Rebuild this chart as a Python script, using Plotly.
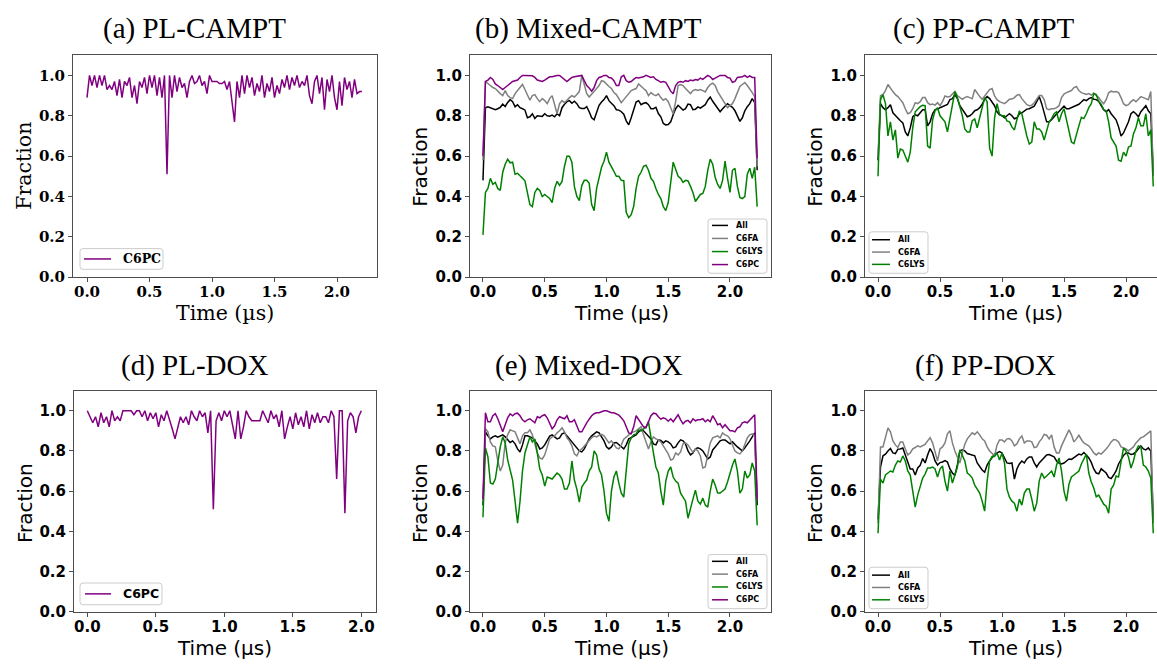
import numpy as np
import plotly.graph_objects as go

W, H = 1157, 667
DT = 0.02  # sampling interval of the traces, in µs

# ---------------- data: fraction of contacts vs. time ----------------
pl_campt_c6pc = [
    0.89, 1.00, 0.95, 1.00, 0.94, 1.00, 0.95, 1.00, 0.93, 0.95,
    0.93, 0.97, 0.90, 0.98, 0.89, 0.97, 0.95, 0.99, 0.89, 0.95,
    0.86, 0.97, 0.94, 0.99, 0.91, 1.00, 0.94, 1.00, 0.90, 0.99,
    0.89, 1.00, 0.51, 1.00, 0.89, 1.00, 0.92, 0.99, 0.94, 0.96,
    0.89, 0.97, 1.00, 0.96, 0.97, 1.00, 0.95, 0.97, 0.91, 1.00,
    0.97, 0.97, 0.97, 0.96, 0.96, 0.97, 0.93, 0.97, 0.88, 0.77,
    0.97, 0.89, 1.00, 0.91, 1.00, 0.94, 0.99, 0.90, 0.96, 0.92,
    1.00, 0.89, 0.96, 0.92, 0.99, 0.89, 0.95, 0.91, 0.98, 0.94,
    1.00, 0.93, 0.99, 0.95, 1.00, 0.94, 0.97, 0.95, 1.00, 0.90,
    0.86, 0.97, 1.00, 0.91, 0.99, 0.83, 0.98, 0.92, 1.00, 0.89,
    0.83, 0.97, 0.85, 0.99, 0.93, 0.97, 0.89, 0.98, 0.91, 0.92, 0.92]

mixed_campt_all = [
    0.48, 0.84, 0.845, 0.84, 0.838, 0.83, 0.835, 0.842, 0.858, 0.846,
    0.866, 0.88, 0.87, 0.845, 0.855, 0.84, 0.835, 0.828, 0.79, 0.795,
    0.81, 0.787, 0.80, 0.80, 0.797, 0.81, 0.80, 0.798, 0.803, 0.795,
    0.81, 0.80, 0.84, 0.857, 0.87, 0.875, 0.862, 0.872, 0.86, 0.84,
    0.836, 0.836, 0.845, 0.82, 0.79, 0.78, 0.82, 0.852, 0.868, 0.88,
    0.90, 0.875, 0.862, 0.85, 0.83, 0.828, 0.82, 0.808, 0.775, 0.755,
    0.79, 0.835, 0.868, 0.875, 0.855, 0.862, 0.865, 0.855, 0.835, 0.835,
    0.842, 0.811, 0.795, 0.762, 0.755, 0.757, 0.77, 0.805, 0.835, 0.852,
    0.84, 0.828, 0.835, 0.858, 0.855, 0.83, 0.832, 0.844, 0.838, 0.845,
    0.855, 0.877, 0.893, 0.872, 0.855, 0.838, 0.82, 0.835, 0.85, 0.86,
    0.85, 0.842, 0.825, 0.795, 0.772, 0.79, 0.825, 0.845, 0.86, 0.885,
    0.865, 0.53]
mixed_campt_c6fa = [
    0.58, 0.97, 0.96, 0.95, 0.94, 0.935, 0.92, 0.91, 0.90, 0.925,
    0.90, 0.89, 0.885, 0.91, 0.925, 0.94, 0.955, 0.93, 0.90, 0.877,
    0.90, 0.905, 0.885, 0.87, 0.885, 0.875, 0.86, 0.885, 0.90, 0.85,
    0.81, 0.86, 0.875, 0.865, 0.88, 0.89, 0.90, 0.893, 0.905, 0.92,
    1.00, 0.96, 0.91, 0.893, 0.909, 0.92, 0.935, 0.95, 0.974, 0.97,
    0.955, 0.945, 0.935, 0.915, 0.905, 0.885, 0.865, 0.88, 0.895, 0.909,
    0.925, 0.93, 0.935, 0.958, 0.945, 0.935, 0.925, 0.90, 0.915, 0.905,
    0.90, 0.909, 0.89, 0.877, 0.885, 0.87, 0.84, 0.81, 0.87, 0.95,
    0.955, 0.95, 0.935, 0.92, 0.91, 0.925, 0.93, 0.925, 0.93, 0.925,
    0.918, 0.94, 0.955, 0.962, 0.95, 0.92, 0.90, 0.88, 0.86, 0.84,
    0.85, 0.86, 0.885, 0.92, 0.945, 0.955, 0.965, 0.95, 0.935, 0.915,
    0.895, 0.55]
mixed_campt_c6lys = [
    0.21, 0.42, 0.44, 0.49, 0.46, 0.47, 0.44, 0.43, 0.52, 0.56,
    0.585, 0.567, 0.57, 0.51, 0.515, 0.50, 0.49, 0.478, 0.42, 0.36,
    0.35, 0.42, 0.44, 0.43, 0.40, 0.41, 0.40, 0.39, 0.37, 0.44,
    0.475, 0.455, 0.475, 0.55, 0.60, 0.60, 0.57, 0.45, 0.40, 0.38,
    0.454, 0.48, 0.48, 0.465, 0.36, 0.33, 0.44, 0.50, 0.545, 0.575,
    0.62, 0.57, 0.55, 0.525, 0.50, 0.50, 0.48, 0.478, 0.32, 0.295,
    0.31, 0.35, 0.44, 0.50, 0.52, 0.55, 0.555, 0.53, 0.49, 0.475,
    0.44, 0.41, 0.39, 0.35, 0.33, 0.37, 0.47, 0.57, 0.535, 0.50,
    0.49, 0.47, 0.48, 0.477, 0.45, 0.42, 0.375, 0.39, 0.41, 0.415,
    0.45, 0.53, 0.585, 0.56, 0.495, 0.46, 0.44, 0.48, 0.575, 0.49,
    0.42, 0.53, 0.54, 0.45, 0.395, 0.39, 0.40, 0.51, 0.54, 0.49,
    0.545, 0.35]
mixed_campt_c6pc = [
    0.60, 0.97, 0.977, 0.99, 0.98, 0.958, 0.95, 0.94, 0.93, 0.94,
    0.95, 0.96, 0.97, 0.974, 0.977, 0.99, 1.00, 1.00, 1.00, 1.00,
    0.998, 0.99, 0.977, 0.974, 0.97, 0.977, 0.987, 0.993, 0.993, 0.998,
    1.00, 1.00, 0.99, 0.977, 0.97, 0.98, 0.99, 0.993, 0.996, 1.00,
    1.00, 0.974, 0.95, 0.938, 0.922, 0.94, 0.974, 0.99, 0.993, 1.00,
    1.00, 0.99, 0.987, 0.974, 0.95, 0.95, 0.993, 1.00, 0.974, 0.966,
    0.97, 0.98, 0.99, 0.987, 0.99, 0.993, 1.00, 0.993, 0.99, 0.993,
    0.98, 0.974, 0.966, 0.97, 0.966, 0.945, 0.922, 0.909, 0.95, 0.966,
    0.97, 0.966, 0.974, 0.97, 0.977, 0.974, 0.98, 0.977, 0.987, 0.98,
    0.99, 1.00, 0.993, 0.98, 0.987, 0.993, 1.00, 1.00, 1.00, 0.99,
    0.987, 0.966, 0.97, 0.99, 0.99, 0.993, 1.00, 0.99, 0.998, 0.99,
    0.99, 0.59]

pp_campt_all = [
    0.58, 0.86, 0.84, 0.83, 0.84, 0.855, 0.815, 0.80, 0.79, 0.775,
    0.765, 0.72, 0.70, 0.74, 0.795, 0.805, 0.80, 0.815, 0.83, 0.83,
    0.75, 0.77, 0.81, 0.83, 0.833, 0.84, 0.845, 0.85, 0.856, 0.88,
    0.885, 0.905, 0.885, 0.85, 0.83, 0.816, 0.795, 0.80, 0.81, 0.825,
    0.83, 0.84, 0.857, 0.882, 0.895, 0.885, 0.87, 0.85, 0.82, 0.805,
    0.80, 0.79, 0.80, 0.81, 0.80, 0.785, 0.79, 0.81, 0.815, 0.825,
    0.833, 0.835, 0.84, 0.848, 0.87, 0.895, 0.86, 0.82, 0.77, 0.77,
    0.78, 0.795, 0.81, 0.825, 0.835, 0.848, 0.835, 0.835, 0.84, 0.845,
    0.85, 0.857, 0.868, 0.88, 0.875, 0.885, 0.89, 0.882, 0.88, 0.872,
    0.85, 0.83, 0.82, 0.83, 0.81, 0.795, 0.78, 0.745, 0.70, 0.715,
    0.74, 0.77, 0.81, 0.82, 0.81, 0.795, 0.82, 0.835, 0.85, 0.825,
    0.81, 0.52]
pp_campt_c6fa = [
    0.60, 0.90, 0.906, 0.925, 0.955, 0.935, 0.92, 0.905, 0.895, 0.88,
    0.865, 0.835, 0.81, 0.815, 0.835, 0.865, 0.86, 0.87, 0.89, 0.89,
    0.865, 0.855, 0.858, 0.853, 0.865, 0.85, 0.87, 0.898, 0.893, 0.895,
    0.906, 0.92, 0.90, 0.89, 0.882, 0.89, 0.895, 0.89, 0.885, 0.93,
    0.91, 0.895, 0.882, 0.898, 0.915, 0.93, 0.935, 0.898, 0.88, 0.87,
    0.865, 0.86, 0.87, 0.882, 0.883, 0.89, 0.902, 0.905, 0.885, 0.87,
    0.855, 0.85, 0.852, 0.865, 0.885, 0.90, 0.90, 0.88, 0.835, 0.83,
    0.835, 0.835, 0.84, 0.85, 0.89, 0.908, 0.915, 0.92, 0.925, 0.94,
    0.945, 0.925, 0.915, 0.91, 0.906, 0.91, 0.902, 0.912, 0.902, 0.89,
    0.873, 0.86, 0.88, 0.914, 0.922, 0.918, 0.92, 0.915, 0.89, 0.86,
    0.85, 0.855, 0.87, 0.88, 0.87, 0.885, 0.895, 0.89, 0.885, 0.88,
    0.92, 0.50]
pp_campt_c6lys = [
    0.50, 0.88, 0.905, 0.86, 0.70, 0.77, 0.68, 0.73, 0.59, 0.635,
    0.63, 0.60, 0.57, 0.62, 0.74, 0.82, 0.835, 0.845, 0.852, 0.85,
    0.65, 0.64, 0.78, 0.825, 0.84, 0.80, 0.785, 0.77, 0.72, 0.79,
    0.86, 0.92, 0.89, 0.845, 0.80, 0.735, 0.72, 0.72, 0.776, 0.784,
    0.74, 0.79, 0.845, 0.89, 0.87, 0.64, 0.60, 0.79, 0.86, 0.808,
    0.80, 0.80, 0.775, 0.77, 0.745, 0.73, 0.78, 0.824, 0.81, 0.75,
    0.70, 0.66, 0.67, 0.77, 0.735, 0.735, 0.72, 0.68, 0.73, 0.77,
    0.786, 0.81, 0.82, 0.77, 0.81, 0.835, 0.78, 0.725, 0.67, 0.662,
    0.70, 0.75, 0.792, 0.786, 0.81, 0.84, 0.86, 0.91, 0.905, 0.87,
    0.857, 0.83, 0.825, 0.77, 0.69, 0.67, 0.65, 0.58, 0.575, 0.62,
    0.60, 0.645, 0.65, 0.71, 0.74, 0.79, 0.75, 0.75, 0.81, 0.70,
    0.73, 0.45]

pl_dox_c6pc = [
    1.00, 0.97, 0.94, 0.97, 0.92, 0.99, 0.94, 0.97, 0.92, 1.00,
    0.95, 0.97, 0.95, 1.00, 1.00, 1.00, 1.00, 0.98, 1.00, 1.00,
    0.97, 1.00, 0.95, 0.99, 0.96, 0.99, 0.92, 0.98, 0.95, 1.00,
    0.96, 0.91, 0.86, 0.92, 0.97, 0.94, 0.97, 0.93, 1.00, 0.97,
    0.95, 1.00, 0.97, 0.99, 0.89, 1.00, 0.51, 0.95, 0.99, 0.95,
    1.00, 0.97, 1.00, 0.93, 0.86, 1.00, 0.86, 0.92, 1.00, 0.97,
    0.95, 0.95, 0.95, 0.95, 1.00, 0.97, 0.94, 1.00, 0.96, 0.98,
    0.92, 1.00, 0.86, 0.92, 0.97, 0.91, 0.99, 0.93, 0.97, 0.92,
    1.00, 0.91, 0.98, 0.94, 0.99, 0.94, 0.97, 0.97, 0.94, 1.00,
    0.97, 0.66, 1.00, 1.00, 0.49, 0.95, 0.99, 0.97, 0.89, 0.97,
    1.00]

mixed_dox_all = [
    0.53, 0.895, 0.875, 0.86, 0.87, 0.875, 0.868, 0.875, 0.88, 0.87,
    0.855, 0.842, 0.85, 0.835, 0.81, 0.795, 0.83, 0.875, 0.875, 0.87,
    0.865, 0.85, 0.835, 0.81, 0.815, 0.83, 0.85, 0.874, 0.88, 0.87,
    0.86, 0.865, 0.885, 0.89, 0.875, 0.855, 0.84, 0.83, 0.815, 0.80,
    0.795, 0.81, 0.835, 0.86, 0.875, 0.885, 0.895, 0.89, 0.87, 0.85,
    0.82, 0.81, 0.82, 0.84, 0.842, 0.83, 0.82, 0.81, 0.83, 0.86,
    0.866, 0.875, 0.88, 0.895, 0.905, 0.90, 0.885, 0.87, 0.86, 0.835,
    0.83, 0.855, 0.852, 0.84, 0.85, 0.845, 0.835, 0.815, 0.82, 0.84,
    0.855, 0.85, 0.835, 0.80, 0.78, 0.79, 0.81, 0.815, 0.81, 0.80,
    0.78, 0.76, 0.77, 0.805, 0.82, 0.835, 0.85, 0.855, 0.855, 0.845,
    0.835, 0.845, 0.83, 0.82, 0.81, 0.80, 0.815, 0.83, 0.85, 0.87,
    0.89, 0.53]
mixed_dox_c6fa = [
    0.55, 0.91, 0.895, 0.845, 0.825, 0.82, 0.75, 0.70, 0.73, 0.84,
    0.88, 0.905, 0.90, 0.895, 0.865, 0.835, 0.875, 0.89, 0.89, 0.905,
    0.88, 0.83, 0.79, 0.765, 0.76, 0.78, 0.825, 0.86, 0.87, 0.875,
    0.89, 0.90, 0.915, 0.895, 0.865, 0.85, 0.825, 0.785, 0.775, 0.80,
    0.81, 0.825, 0.84, 0.855, 0.866, 0.874, 0.87, 0.878, 0.883, 0.875,
    0.855, 0.84, 0.85, 0.83, 0.815, 0.81, 0.83, 0.858, 0.87, 0.88,
    0.89, 0.895, 0.90, 0.91, 0.92, 0.88, 0.84, 0.81, 0.845, 0.87,
    0.86, 0.855, 0.845, 0.825, 0.80, 0.785, 0.755, 0.76, 0.79, 0.78,
    0.795, 0.835, 0.84, 0.83, 0.81, 0.793, 0.81, 0.80, 0.775, 0.715,
    0.72, 0.775, 0.84, 0.865, 0.87, 0.875, 0.865, 0.89, 0.88, 0.875,
    0.86, 0.825, 0.80, 0.79, 0.785, 0.80, 0.835, 0.865, 0.88, 0.885,
    0.875, 0.56]
mixed_dox_c6lys = [
    0.47, 0.815, 0.77, 0.64, 0.635, 0.66, 0.74, 0.82, 0.87, 0.84,
    0.755, 0.71, 0.655, 0.55, 0.44, 0.55, 0.70, 0.79, 0.835, 0.87,
    0.845, 0.86, 0.79, 0.71, 0.68, 0.625, 0.67, 0.665, 0.66, 0.675,
    0.69, 0.68, 0.66, 0.61, 0.61, 0.64, 0.75, 0.655, 0.61, 0.545,
    0.62, 0.64, 0.655, 0.70, 0.72, 0.80, 0.78, 0.71, 0.68, 0.60,
    0.49, 0.45, 0.60, 0.67, 0.70, 0.64, 0.59, 0.57, 0.72, 0.835,
    0.865, 0.88, 0.885, 0.905, 0.90, 0.91, 0.92, 0.945, 0.86, 0.79,
    0.72, 0.69, 0.60, 0.53, 0.65, 0.70, 0.72, 0.67, 0.65, 0.64,
    0.59, 0.57, 0.55, 0.465, 0.52, 0.56, 0.605, 0.55, 0.535, 0.565,
    0.53, 0.52, 0.60, 0.66, 0.63, 0.59, 0.59, 0.60, 0.61, 0.645,
    0.69, 0.73, 0.76, 0.70, 0.59, 0.61, 0.70, 0.665, 0.68, 0.74,
    0.70, 0.43]
mixed_dox_c6pc = [
    0.56, 0.99, 0.945, 0.945, 0.975, 0.985, 0.96, 0.925, 0.895, 0.93,
    0.965, 0.985, 0.975, 0.985, 0.988, 0.975, 0.955, 0.945, 0.955, 0.96,
    0.948, 0.94, 0.97, 0.965, 0.975, 0.98, 0.965, 0.935, 0.91, 0.925,
    0.955, 0.97, 0.965, 0.96, 0.975, 0.945, 0.945, 0.955, 0.925, 0.895,
    0.895, 0.92, 0.94, 0.958, 0.975, 0.985, 0.99, 0.99, 0.995, 1.00,
    1.00, 0.996, 0.99, 0.99, 0.985, 0.978, 0.965, 0.95, 0.92, 0.89,
    0.885, 0.92, 0.975, 0.955, 0.935, 0.92, 0.915, 0.95, 0.975, 0.988,
    0.985, 0.97, 0.958, 0.965, 0.96, 0.948, 0.96, 0.945, 0.962, 0.98,
    0.955, 0.935, 0.948, 0.952, 0.94, 0.96, 0.95, 0.955, 0.955, 0.96,
    0.945, 0.955, 0.945, 0.975, 0.955, 0.93, 0.935, 0.915, 0.93, 0.915,
    0.90, 0.90, 0.895, 0.915, 0.92, 0.94, 0.945, 0.94, 0.955, 0.965,
    0.98, 0.56]

pp_dox_all = [
    0.46, 0.72, 0.776, 0.784, 0.80, 0.812, 0.79, 0.787, 0.809, 0.81,
    0.815, 0.78, 0.737, 0.71, 0.71, 0.68, 0.715, 0.728, 0.762, 0.74,
    0.78, 0.812, 0.79, 0.75, 0.73, 0.742, 0.745, 0.752, 0.745, 0.71,
    0.69, 0.678, 0.73, 0.80, 0.805, 0.80, 0.787, 0.784, 0.78, 0.776,
    0.74, 0.72, 0.705, 0.694, 0.73, 0.75, 0.765, 0.784, 0.79, 0.797,
    0.79, 0.765, 0.74, 0.737, 0.74, 0.66, 0.71, 0.735, 0.75, 0.74,
    0.76, 0.77, 0.77, 0.74, 0.72, 0.74, 0.755, 0.765, 0.78, 0.782,
    0.776, 0.77, 0.75, 0.74, 0.735, 0.74, 0.75, 0.76, 0.758, 0.768,
    0.775, 0.784, 0.78, 0.792, 0.78, 0.765, 0.743, 0.71, 0.69, 0.686,
    0.711, 0.70, 0.69, 0.668, 0.662, 0.68, 0.70, 0.735, 0.755, 0.778,
    0.79, 0.79, 0.782, 0.785, 0.795, 0.81, 0.825, 0.81, 0.805, 0.815,
    0.80, 0.46]
pp_dox_c6fa = [
    0.44, 0.82, 0.82, 0.875, 0.915, 0.895, 0.85, 0.83, 0.817, 0.845,
    0.845, 0.81, 0.78, 0.79, 0.81, 0.817, 0.825, 0.82, 0.825, 0.833,
    0.85, 0.866, 0.84, 0.79, 0.75, 0.81, 0.82, 0.84, 0.885, 0.90,
    0.84, 0.80, 0.765, 0.74, 0.79, 0.833, 0.86, 0.875, 0.89, 0.882,
    0.895, 0.88, 0.86, 0.85, 0.82, 0.80, 0.79, 0.776, 0.83, 0.855,
    0.855, 0.845, 0.86, 0.862, 0.85, 0.825, 0.835, 0.86, 0.874, 0.84,
    0.85, 0.85, 0.845, 0.817, 0.82, 0.845, 0.86, 0.882, 0.878, 0.86,
    0.88, 0.82, 0.79, 0.79, 0.825, 0.85, 0.88, 0.905, 0.88, 0.845,
    0.86, 0.878, 0.857, 0.84, 0.833, 0.825, 0.809, 0.79, 0.78, 0.79,
    0.784, 0.795, 0.81, 0.825, 0.845, 0.857, 0.855, 0.845, 0.82, 0.815,
    0.81, 0.80, 0.81, 0.82, 0.84, 0.855, 0.866, 0.87, 0.882, 0.89,
    0.90, 0.44]
pp_dox_c6lys = [
    0.39, 0.66, 0.64, 0.68, 0.69, 0.70, 0.695, 0.73, 0.75, 0.745,
    0.775, 0.75, 0.70, 0.68, 0.60, 0.52, 0.58, 0.63, 0.665, 0.685,
    0.715, 0.715, 0.72, 0.71, 0.67, 0.71, 0.725, 0.65, 0.60, 0.70,
    0.64, 0.68, 0.72, 0.805, 0.78, 0.75, 0.69, 0.68, 0.665, 0.63,
    0.61, 0.59, 0.55, 0.50, 0.65, 0.75, 0.772, 0.772, 0.79, 0.755,
    0.79, 0.74, 0.61, 0.57, 0.55, 0.54, 0.50, 0.56, 0.53, 0.59,
    0.61, 0.61, 0.56, 0.50, 0.54, 0.65, 0.69, 0.665, 0.675, 0.69,
    0.70, 0.67, 0.73, 0.765, 0.70, 0.60, 0.55, 0.635, 0.67, 0.68,
    0.69, 0.70, 0.735, 0.76, 0.784, 0.69, 0.645, 0.615, 0.572, 0.58,
    0.556, 0.535, 0.525, 0.49, 0.61, 0.63, 0.675, 0.67, 0.745, 0.815,
    0.80, 0.77, 0.715, 0.75, 0.80, 0.825, 0.82, 0.73, 0.72, 0.70,
    0.665, 0.39]

X_TICKS = [0.0, 0.5, 1.0, 1.5, 2.0]
Y_TICKS = [0.0, 0.2, 0.4, 0.6, 0.8, 1.0]
COLORS = {"All": "black", "C6FA": "gray", "C6LYS": "green", "C6PC": "purple"}
FRAME = "#4d4d4d"


def times(values):
    return np.round(np.arange(len(values)) * DT, 2)


def fx(px):
    return px / W


def fy(py):
    return 1 - py / H


panels = [
    dict(title="(a) PL-CAMPT", title_xy=(194, 29), box=(73, 56, 377, 281),
         xr=(-0.112, 2.32), serif=True,
         series=[("C6PC", pl_campt_c6pc)],
         ylab=(24, 168), xlab=(225, 317),
         legend=dict(box=(80, 252, 163, 273), rows=[262.5], line=(84, 111),
                     text_x=121, size=12.5)),
    dict(title="(b) Mixed-CAMPT", title_xy=(589, 29), box=(470, 56, 771, 281),
         xr=(-0.105, 2.332), serif=False,
         series=[("All", mixed_campt_all), ("C6FA", mixed_campt_c6fa),
                 ("C6LYS", mixed_campt_c6lys), ("C6PC", mixed_campt_c6pc)],
         ylab=(420, 169), xlab=(621, 317),
         legend=dict(box=(708, 222, 767, 277), rows=[228.5, 241.7, 255, 268.2],
                     line=(712, 728), text_x=734, size=8)),
    dict(title="(c) PP-CAMPT", title_xy=(984, 29), box=(865, 56, 1157, 281),
         xr=(-0.105, 2.25), serif=False, open_right=True,
         series=[("All", pp_campt_all), ("C6FA", pp_campt_c6fa),
                 ("C6LYS", pp_campt_c6lys)],
         ylab=(815, 169), xlab=(1015, 317),
         legend=dict(box=(869, 235, 928, 277), rows=[243, 255.5, 268],
                     line=(872, 890), text_x=896, size=8)),
    dict(title="(d) PL-DOX", title_xy=(194, 370), box=(74, 396, 376, 620),
         xr=(-0.097, 2.107), serif=False,
         series=[("C6PC", pl_dox_c6pc)],
         ylab=(25, 510), xlab=(224, 657),
         legend=dict(box=(80, 591, 162, 613), rows=[602], line=(85, 111),
                     text_x=121, size=12.5)),
    dict(title="(e) Mixed-DOX", title_xy=(589, 370), box=(470, 396, 771, 620),
         xr=(-0.105, 2.332), serif=False,
         series=[("All", mixed_dox_all), ("C6FA", mixed_dox_c6fa),
                 ("C6LYS", mixed_dox_c6lys), ("C6PC", mixed_dox_c6pc)],
         ylab=(420, 510), xlab=(621, 657),
         legend=dict(box=(708, 562, 767, 617), rows=[569, 582, 595, 608],
                     line=(712, 728), text_x=734, size=8)),
    dict(title="(f) PP-DOX", title_xy=(985, 370), box=(865, 396, 1157, 620),
         xr=(-0.105, 2.25), serif=False, open_right=True,
         series=[("All", pp_dox_all), ("C6FA", pp_dox_c6fa),
                 ("C6LYS", pp_dox_c6lys)],
         ylab=(815, 510), xlab=(1015, 657),
         legend=dict(box=(869, 575, 928, 617), rows=[583, 595.5, 608],
                     line=(872, 890), text_x=896, size=8)),
]


def rounded_box(x0, y0, x1, y1, r=3):
    pts = [("M", [(x0 + r, y0)]), ("L", [(x1 - r, y0)]), ("Q", [(x1, y0), (x1, y0 + r)]),
           ("L", [(x1, y1 - r)]), ("Q", [(x1, y1), (x1 - r, y1)]),
           ("L", [(x0 + r, y1)]), ("Q", [(x0, y1), (x0, y1 - r)]),
           ("L", [(x0, y0 + r)]), ("Q", [(x0, y0), (x0 + r, y0)])]
    parts = []
    for cmd, coords in pts:
        parts.append(cmd + " " + " ".join(f"{fx(a):.5f},{fy(b):.5f}" for a, b in coords))
    return " ".join(parts) + " Z"


fig = go.Figure()
annotations, shapes, axes = [], [], {}

for i, p in enumerate(panels, start=1):
    suffix = "" if i == 1 else str(i)
    xa, ya = "x" + suffix, "y" + suffix
    fam = "DejaVu Serif" if p["serif"] else "DejaVu Sans"
    lab_size = 20.5 if p["serif"] else 20
    left, top, right, bottom = p["box"]

    for name, vals in p["series"]:
        fig.add_trace(go.Scatter(
            x=times(vals), y=vals, mode="lines", name=name, showlegend=False,
            line=dict(color=COLORS[name], width=1.5), xaxis=xa, yaxis=ya))

    tick_font = dict(family=fam, size=15, color="black", weight="bold")
    axes["xaxis" + suffix] = dict(
        domain=[fx(left), fx(right)], anchor=ya, range=list(p["xr"]),
        tickmode="array", tickvals=X_TICKS, ticktext=[f"{v:.1f}" for v in X_TICKS],
        ticks="outside", ticklen=4, tickwidth=1, tickcolor=FRAME,
        ticklabelstandoff=-3,
        showline=True, linecolor=FRAME, linewidth=1, mirror=True,
        showgrid=False, zeroline=False, tickfont=tick_font)
    axes["yaxis" + suffix] = dict(
        domain=[fy(bottom), fy(top)], anchor=xa, range=[0, 1.1],
        tickmode="array", tickvals=Y_TICKS, ticktext=[f"{v:.1f}" for v in Y_TICKS],
        ticks="outside", ticklen=4, tickwidth=1, tickcolor=FRAME,
        showline=True, linecolor=FRAME, linewidth=1,
        mirror=not p.get("open_right", False),
        showgrid=False, zeroline=False, tickfont=tick_font)

    # panel title
    tx, ty = p["title_xy"]
    annotations.append(dict(
        text=p["title"], x=fx(tx), y=fy(ty), xref="paper", yref="paper",
        xanchor="center", yanchor="middle", showarrow=False,
        font=dict(family="Liberation Serif", size=29, color="black")))
    # axis titles
    lx, ly = p["ylab"]
    annotations.append(dict(
        text="Fraction", x=fx(lx), y=fy(ly), xref="paper", yref="paper",
        xanchor="center", yanchor="middle", textangle=-90, showarrow=False,
        font=dict(family=fam, size=lab_size, color="black")))
    bx, by = p["xlab"]
    annotations.append(dict(
        text="Time (µs)", x=fx(bx), y=fy(by), xref="paper", yref="paper",
        xanchor="center", yanchor="middle", showarrow=False,
        font=dict(family=fam, size=lab_size, color="black")))

    # legend box with line samples
    lg = p["legend"]
    shapes.append(dict(type="path", path=rounded_box(*lg["box"]), xref="paper", yref="paper",
                       line=dict(color="#cccccc", width=1),
                       fillcolor="rgba(255,255,255,0.85)", layer="above"))
    for (name, _), row_y in zip(p["series"], lg["rows"]):
        shapes.append(dict(type="line", xref="paper", yref="paper",
                           x0=fx(lg["line"][0]), x1=fx(lg["line"][1]),
                           y0=fy(row_y), y1=fy(row_y),
                           line=dict(color=COLORS[name], width=1.5), layer="above"))
        annotations.append(dict(
            text=name, x=fx(lg["text_x"]), y=fy(row_y), xref="paper", yref="paper",
            xanchor="left", yanchor="middle", showarrow=False,
            font=dict(family=fam, size=lg["size"], color="black", weight="bold")))

fig.update_layout(
    width=W, height=H, margin=dict(l=0, r=0, t=0, b=0),
    paper_bgcolor="white", plot_bgcolor="white",
    showlegend=False, annotations=annotations, shapes=shapes, **axes)

fig.write_html("out.html")
